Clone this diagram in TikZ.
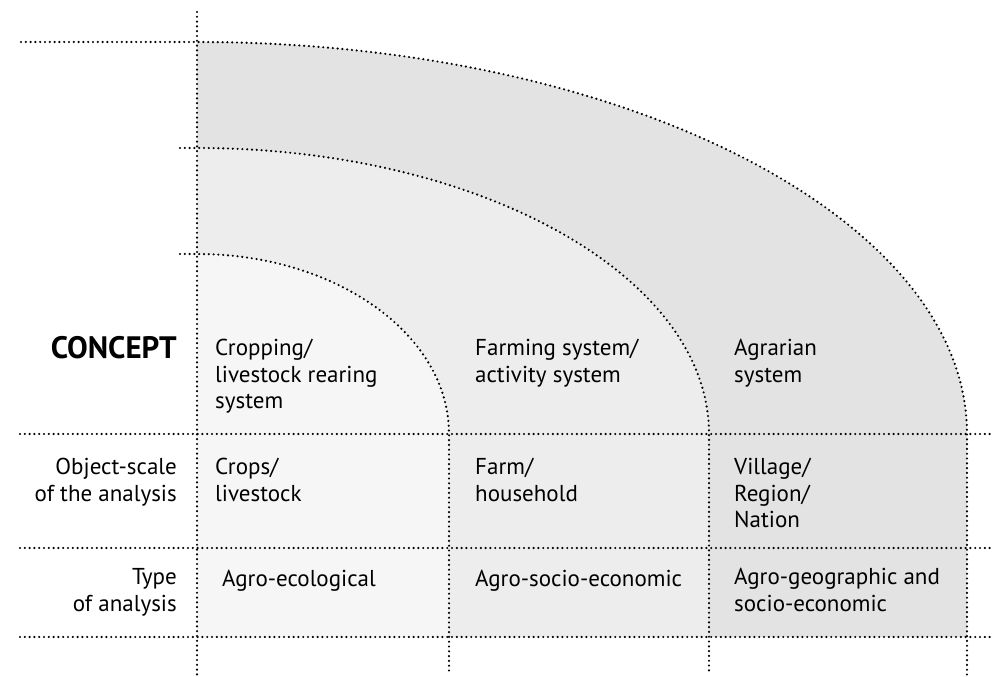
\documentclass[tikz,border=0pt]{standalone}
\usepackage{fontspec}
\setmainfont{PT Sans}
\begin{document}
\begin{tikzpicture}[x=1pt,y=1pt,
  dotline/.style={line width=2.4pt, dash pattern=on 0pt off 4.8pt, line cap=round, black},
  celltext/.style={anchor=base west, align=left, inner sep=0pt, font=\fontsize{23}{26.5}\selectfont},
  rowlabel/.style={anchor=base east, align=right, inner sep=0pt, font=\fontsize{23}{26.5}\selectfont},
  outerfill/.style={fill=black!11},
  midfill/.style={fill=black!7},
  innerfill/.style={fill=black!3.5}]
\useasboundingbox (0,0) rectangle (993,677);
% fills
\fill[outerfill] (197,40) -- (197,635) arc[start angle=90,end angle=0,x radius=770,y radius=392] -- (967,40) -- cycle;
\fill[midfill] (197,40) -- (197,529) arc[start angle=90,end angle=0,x radius=512,y radius=286] -- (709,40) -- cycle;
\fill[innerfill] (197,40) -- (197,423) arc[start angle=90,end angle=0,x radius=252,y radius=180] -- (449,40) -- cycle;
% coordinates
\coordinate (v0t) at (197,665);
\coordinate (v0b) at (197,2);
\coordinate (h1l) at (21,635);
\coordinate (h1m) at (197,635);
\coordinate (h2l) at (180,529);
\coordinate (h2m) at (197,529);
\coordinate (h3l) at (180,423);
\coordinate (h3m) at (197,423);
\coordinate (c1b) at (967,2);
\coordinate (c2b) at (709,2);
\coordinate (c3b) at (449,2);
\coordinate (r1l) at (20,243);
\coordinate (r1r) at (991,243);
\coordinate (r2l) at (20,129);
\coordinate (r2r) at (991,129);
\coordinate (r3l) at (20,40);
\coordinate (r3r) at (991,40);
% lines
\draw[dotline] (v0t) -- (v0b);
\draw[dotline] (h1l) -- (h1m) arc[start angle=90,end angle=0,x radius=770,y radius=392] -- (c1b);
\draw[dotline] (h2l) -- (h2m) arc[start angle=90,end angle=0,x radius=512,y radius=286] -- (c2b);
\draw[dotline] (h3l) -- (h3m) arc[start angle=90,end angle=0,x radius=252,y radius=180] -- (c3b);
\draw[dotline] (r1l) -- (r1r);
\draw[dotline] (r2l) -- (r2r);
\draw[dotline] (r3l) -- (r3r);
% texts (base anchor = baseline of last line)
\node[anchor=base east, inner sep=0pt, font=\fontsize{31}{36}\selectfont\bfseries] (concept) at (177,318) {CONCEPT};
\node[rowlabel] (obj) at (177,175.5) {Object-scale\\of the analysis};
\node[rowlabel] (typ) at (177,65.5) {Type\\of analysis};
\node[celltext] (c11) at (215,268) {Cropping/\\livestock rearing\\system};
\node[celltext] (c12) at (475,294.5) {Farming system/\\activity system};
\node[celltext] (c13) at (734,294.5) {Agrarian\\system};
\node[celltext] (c21) at (215,175.5) {Crops/\\livestock};
\node[celltext] (c22) at (475,175.5) {Farm/\\household};
\node[celltext] (c23) at (734,149) {Village/\\Region/\\Nation};
\node[celltext] (c31) at (222,90) {Agro-ecological};
\node[celltext] (c32) at (475,90) {Agro-socio-economic};
\node[celltext] (c33) at (734,65.5) {Agro-geographic and\\socio-economic};
\end{tikzpicture}
\end{document}
